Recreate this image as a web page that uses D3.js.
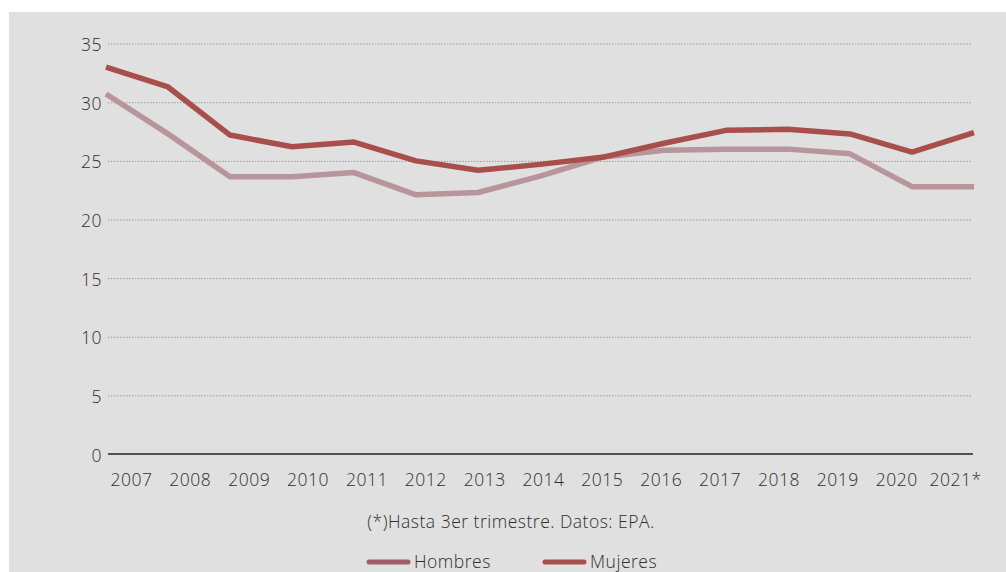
<!DOCTYPE html>
<html>
<head>
<meta charset="utf-8">
<script src="https://cdn.jsdelivr.net/npm/d3@7"></script>
<style>
  body { margin: 0; background: #fff; }
  svg text { font-family: "Open Sans", Lato, sans-serif; font-weight: 300; fill: #2e2e2e; letter-spacing: 0.5px; }
</style>
</head>
<body>
<svg id="chart" width="1006" height="572"></svg>
<script>
// datos
var years = ["2007","2008","2009","2010","2011","2012","2013","2014","2015","2016","2017","2018","2019","2020","2021"];
var yearLabels = ["2007","2008","2009","2010","2011","2012","2013","2014","2015","2016","2017","2018","2019","2020","2021*"];
var hombres = [30.7, 27.3, 23.65, 23.65, 24.0, 22.1, 22.3, 23.7, 25.3, 25.9, 26.0, 26.0, 25.6, 22.8, 22.8];
var mujeres = [33.0, 31.3, 27.2, 26.2, 26.6, 25.0, 24.2, 24.7, 25.3, 26.5, 27.6, 27.7, 27.3, 25.75, 27.4];
var yTicks = [0, 5, 10, 15, 20, 25, 30, 35];

var colHombres = "#b8959a", colHombresLeg = "#9e5f6b", colMujeres = "#a84f4b";
var fontSize = 17.5;

var svg = d3.select("#chart");

svg.append("rect")
  .attr("x", 9).attr("y", 12)
  .attr("width", 997).attr("height", 560)
  .attr("fill", "#e0e0e0");

var x = d3.scalePoint().domain(years).range([106, 974]);
var xLab = d3.scalePoint().domain(yearLabels).range([131, 955]);
var y = d3.scaleLinear().domain([0, 35]).range([454, 43.6]);

// rejilla punteada
svg.append("g")
  .selectAll("line")
  .data(yTicks.filter(d => d > 0))
  .join("line")
    .attr("x1", 108).attr("x2", 972)
    .attr("y1", d => y(d) + 0.5).attr("y2", d => y(d) + 0.5)
    .attr("stroke", "#9a9a9a")
    .attr("stroke-width", 1)
    .attr("stroke-dasharray", "1.5,1.5");

// eje y
var yAxis = svg.append("g")
  .attr("transform", "translate(102,0)")
  .call(d3.axisLeft(y).tickValues(yTicks).tickSize(0).tickPadding(0));
yAxis.select(".domain").remove();
yAxis.selectAll("text")
  .attr("font-size", fontSize)
  .attr("dy", "0.4em");

// linea base
svg.append("line")
  .attr("x1", 108).attr("x2", 973)
  .attr("y1", y(0)).attr("y2", y(0))
  .attr("stroke", "#222").attr("stroke-width", 1.5);

// eje x
var xAxis = svg.append("g")
  .attr("transform", "translate(0,474)")
  .call(d3.axisBottom(xLab).tickSize(0).tickPadding(0));
xAxis.select(".domain").remove();
xAxis.selectAll("text")
  .attr("font-size", fontSize)
  .attr("dy", "0.71em");
svg.selectAll("g").attr("font-family", null).attr("font-size", null);

var line = d3.line()
  .x((d, i) => x(years[i]))
  .y(d => y(d));

svg.append("path")
  .datum(hombres)
  .attr("fill", "none")
  .attr("stroke", colHombres)
  .attr("stroke-width", 5.5)
  .attr("stroke-linejoin", "round")
  .attr("d", line);

svg.append("path")
  .datum(mujeres)
  .attr("fill", "none")
  .attr("stroke", colMujeres)
  .attr("stroke-width", 5.5)
  .attr("stroke-linejoin", "round")
  .attr("d", line);

// nota
svg.append("text")
  .attr("x", 511).attr("y", 528)
  .attr("text-anchor", "middle")
  .attr("font-size", fontSize)
  .text("(*)Hasta 3er trimestre. Datos: EPA.");

// leyenda
var legend = [
  {name: "Hombres", color: colHombresLeg, x: 367},
  {name: "Mujeres", color: colMujeres, x: 543}
];
var lg = svg.append("g").selectAll("g").data(legend).join("g")
  .attr("transform", d => `translate(${d.x},562)`);
lg.append("line")
  .attr("x1", 2).attr("x2", 41)
  .attr("y1", 0).attr("y2", 0)
  .attr("stroke", d => d.color)
  .attr("stroke-width", 5)
  .attr("stroke-linecap", "round");
lg.append("text")
  .attr("x", 47).attr("y", 6)
  .attr("font-size", fontSize)
  .text(d => d.name);
</script>
</body>
</html>
